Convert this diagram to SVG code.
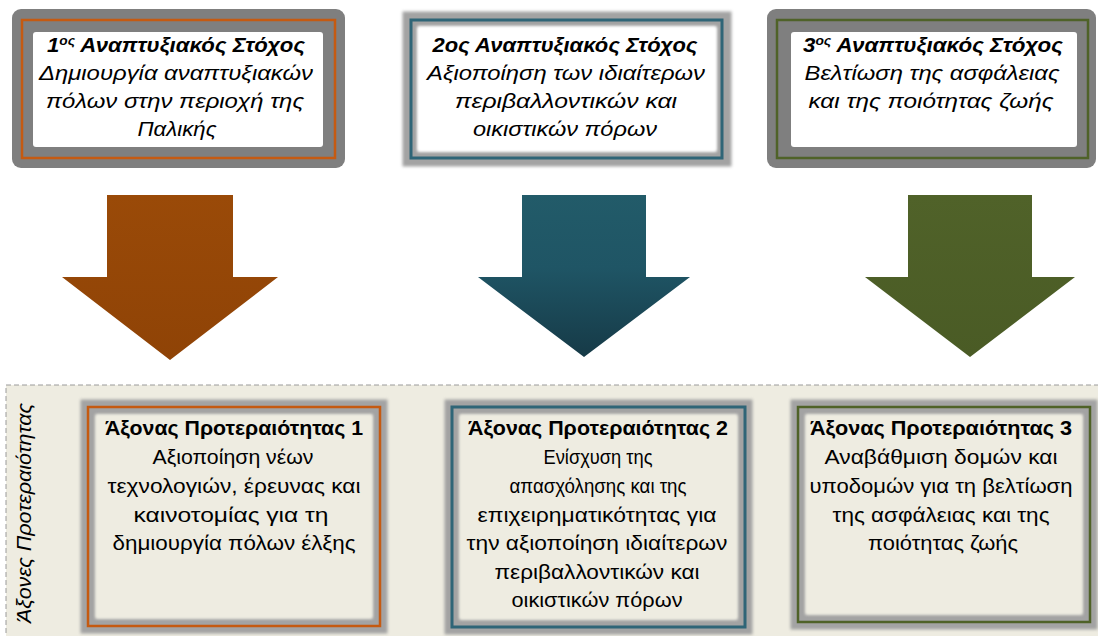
<svg xmlns="http://www.w3.org/2000/svg" width="1098" height="636" viewBox="0 0 1098 636">
<defs>
<filter id="soft" x="-10%" y="-10%" width="120%" height="120%"><feGaussianBlur stdDeviation="1.6"/></filter>
<linearGradient id="gOr" x1="0" y1="0" x2="0" y2="1"><stop offset="0" stop-color="#9a4a08"/><stop offset="1" stop-color="#8f4306"/></linearGradient>
<linearGradient id="gTe" x1="0" y1="0" x2="0" y2="1"><stop offset="0" stop-color="#225b69"/><stop offset="0.45" stop-color="#1f5565"/><stop offset="1" stop-color="#163a47"/></linearGradient>
<linearGradient id="gGr" x1="0" y1="0" x2="0" y2="1"><stop offset="0" stop-color="#506229"/><stop offset="1" stop-color="#4a5b25"/></linearGradient>
</defs>
<style>
.t{font-family:"Liberation Sans",Arial,sans-serif;fill:#000;text-anchor:middle}
.tt{font-size:21px;font-style:italic}
.tb{font-weight:bold}
.bt{font-size:20px}
.band{fill:none;stroke:#a3a3a3;filter:url(#soft)}
.solid{fill:#7f7f7f}
.or{fill:none;stroke:#c55a11;stroke-width:2.5}
.te{fill:none;stroke:#2f6577;stroke-width:3}
.gr{fill:none;stroke:#4f6228;stroke-width:2.5}
</style>
<rect x="6" y="385" width="1100" height="260" fill="#eeece1" stroke="#9a9a9a" stroke-width="1" stroke-dasharray="5,3"/>
<text class="t tt" font-size="20" transform="translate(31,513) rotate(-90)" textLength="220" lengthAdjust="spacingAndGlyphs">Άξονες Προτεραιότητας</text>
<g id="goal1">
<rect class="solid" x="12" y="9" width="333" height="159" rx="9"/>
<rect class="or" x="22" y="20" width="313" height="138"/>
<rect x="33" y="32" width="290" height="115" rx="3" fill="#fff"/>
<text class="t tt tb" x="176" y="52" textLength="258" lengthAdjust="spacingAndGlyphs">1<tspan font-size="13" dy="-7">ος</tspan><tspan dy="7"> Αναπτυξιακός Στόχος</tspan></text>
<text class="t tt" x="176" y="80" textLength="274" lengthAdjust="spacingAndGlyphs">Δημιουργία αναπτυξιακών</text>
<text class="t tt" x="175" y="108" textLength="258" lengthAdjust="spacingAndGlyphs">πόλων στην περιοχή της</text>
<text class="t tt" x="177" y="136" textLength="79" lengthAdjust="spacingAndGlyphs">Παλικής</text>
</g>
<g id="goal2">
<rect class="band" x="410" y="19" width="314" height="140" stroke-width="15" fill="#fff"/>
<rect x="418" y="27" width="298" height="124" fill="#fff" filter="url(#soft)"/>
<rect class="te" x="411" y="20" width="311" height="138"/>
<text class="t tt tb" x="565" y="52" textLength="265" lengthAdjust="spacingAndGlyphs">2ος Αναπτυξιακός Στόχος</text>
<text class="t tt" x="566" y="80" textLength="278" lengthAdjust="spacingAndGlyphs">Αξιοποίηση των ιδιαίτερων</text>
<text class="t tt" x="566" y="108" textLength="222" lengthAdjust="spacingAndGlyphs">περιβαλλοντικών και</text>
<text class="t tt" x="565" y="136" textLength="184" lengthAdjust="spacingAndGlyphs">οικιστικών πόρων</text>
</g>
<g id="goal3">
<rect class="solid" x="767" y="9" width="329" height="159" rx="9"/>
<rect class="gr" x="777" y="20" width="311" height="138"/>
<rect x="791" y="32" width="286" height="115" rx="3" fill="#fff"/>
<text class="t tt tb" x="933" y="52" textLength="260" lengthAdjust="spacingAndGlyphs">3<tspan font-size="13" dy="-7">ος</tspan><tspan dy="7"> Αναπτυξιακός Στόχος</tspan></text>
<text class="t tt" x="932" y="80" textLength="255" lengthAdjust="spacingAndGlyphs">Βελτίωση της ασφάλειας</text>
<text class="t tt" x="931" y="108" textLength="245" lengthAdjust="spacingAndGlyphs">και της ποιότητας ζωής</text>
</g>
<g id="connectors">
<polygon fill="url(#gOr)" points="107,195 233,195 233,277 278,277 170,360 62,277 107,277"/>
<polygon fill="url(#gTe)" points="522,195 646,195 646,277 690,277 584,357 478,277 522,277"/>
<polygon fill="url(#gGr)" points="908,195 1032,195 1032,277 1075,277 970,357 865,277 908,277"/>
</g>
<g id="axis1">
<rect class="band" x="88" y="407" width="292" height="219" stroke-width="15" fill="#eeece1"/>
<rect x="96" y="415" width="276" height="203" fill="#eeece1" filter="url(#soft)"/>
<rect class="or" x="88" y="407" width="292" height="219"/>
<text class="t bt tb" x="234" y="435" textLength="258" lengthAdjust="spacingAndGlyphs">Άξονας Προτεραιότητας 1</text>
<text class="t bt" x="233" y="464" textLength="161" lengthAdjust="spacingAndGlyphs">Αξιοποίηση νέων</text>
<text class="t bt" x="234" y="493" textLength="253" lengthAdjust="spacingAndGlyphs">τεχνολογιών, έρευνας και</text>
<text class="t bt" x="231" y="522" textLength="195" lengthAdjust="spacingAndGlyphs">καινοτομίας για τη</text>
<text class="t bt" x="234" y="550" textLength="243" lengthAdjust="spacingAndGlyphs">δημιουργία πόλων έλξης</text>
</g>
<g id="axis2">
<rect class="band" x="452" y="407" width="293" height="220" stroke-width="15" fill="#eeece1"/>
<rect x="460" y="415" width="277" height="204" fill="#eeece1" filter="url(#soft)"/>
<rect class="te" x="452" y="407" width="293" height="220"/>
<text class="t bt tb" x="598" y="435" textLength="260" lengthAdjust="spacingAndGlyphs">Άξονας Προτεραιότητας 2</text>
<text class="t bt" x="598" y="464" textLength="109" lengthAdjust="spacingAndGlyphs">Ενίσχυση της</text>
<text class="t bt" x="598" y="493" textLength="177" lengthAdjust="spacingAndGlyphs">απασχόλησης και της</text>
<text class="t bt" x="597" y="522" textLength="239" lengthAdjust="spacingAndGlyphs">επιχειρηματικότητας για</text>
<text class="t bt" x="597" y="550" textLength="261" lengthAdjust="spacingAndGlyphs">την αξιοποίηση ιδιαίτερων</text>
<text class="t bt" x="597" y="579" textLength="205" lengthAdjust="spacingAndGlyphs">περιβαλλοντικών και</text>
<text class="t bt" x="597" y="607" textLength="171" lengthAdjust="spacingAndGlyphs">οικιστικών πόρων</text>
</g>
<g id="axis3">
<rect class="band" x="798" y="407" width="292" height="215" stroke-width="15" fill="#eeece1"/>
<rect x="806" y="415" width="276" height="199" fill="#eeece1" filter="url(#soft)"/>
<rect class="gr" x="798" y="407" width="292" height="215"/>
<text class="t bt tb" x="941" y="435" textLength="262" lengthAdjust="spacingAndGlyphs">Άξονας Προτεραιότητας 3</text>
<text class="t bt" x="941" y="464" textLength="233" lengthAdjust="spacingAndGlyphs">Αναβάθμιση δομών και</text>
<text class="t bt" x="941" y="493" textLength="263" lengthAdjust="spacingAndGlyphs">υποδομών για τη βελτίωση</text>
<text class="t bt" x="941" y="522" textLength="217" lengthAdjust="spacingAndGlyphs">της ασφάλειας και της</text>
<text class="t bt" x="943" y="550" textLength="150" lengthAdjust="spacingAndGlyphs">ποιότητας ζωής</text>
</g>
</svg>
